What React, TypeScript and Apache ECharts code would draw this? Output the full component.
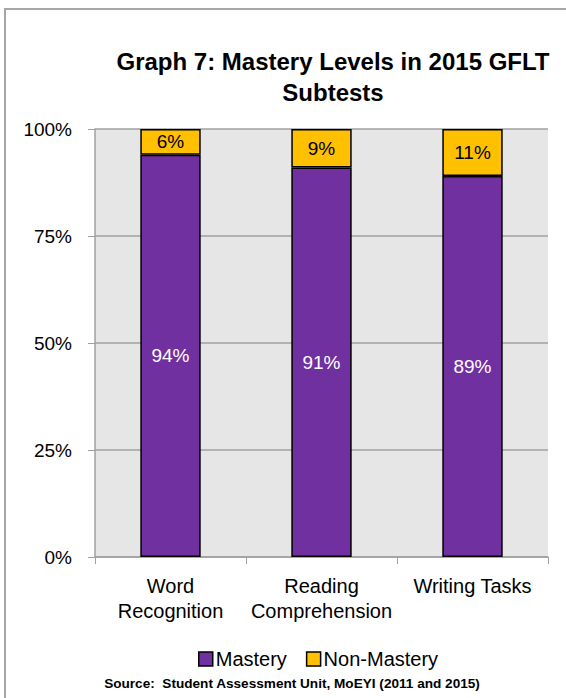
import React, { useEffect, useRef } from "react";
import * as echarts from "echarts";

const categories = ["Word\nRecognition", "Reading\nComprehension", "Writing Tasks"];
const mastery = [94, 91, 89];
const nonMastery = [6, 9, 11];
const yTicks = [0, 25, 50, 75, 100];

const FONT = "'Liberation Sans', Arial, sans-serif";

export default function App() {
  const ref = useRef<HTMLDivElement>(null);
  useEffect(() => {
    const chart = echarts.init(ref.current!, null, { renderer: "svg" });
    chart.setOption({
      animation: false,
      backgroundColor: "#ffffff",
      title: {
        text: "Graph 7: Mastery Levels in 2015 GFLT\nSubtests",
        left: 328,
        top: 41,
        textAlign: "center",
        textStyle: { fontFamily: FONT, fontSize: 24, fontWeight: "bold", color: "#000", lineHeight: 31 },
      },
      graphic: [
        {
          type: "rect",
          shape: { x: 5, y: 9, width: 570, height: 700 },
          style: { fill: "none", stroke: "#a6a6a6", lineWidth: 2 },
          silent: true,
        },
        {
          type: "text",
          x: 292,
          y: 683,
          style: {
            text: "Source:  Student Assessment Unit, MoEYI (2011 and 2015)",
            font: "bold 13.6px 'Liberation Sans', Arial, sans-serif",
            fill: "#000",
            align: "center",
            verticalAlign: "middle",
          },
        },
      ],
      legend: {
        data: ["Mastery", "Non-Mastery"],
        left: 193,
        top: 644,
        itemWidth: 14,
        itemHeight: 14,
        itemGap: 19,
        icon: "rect",
        itemStyle: { borderColor: "#000", borderWidth: 1.5 },
        textStyle: { fontFamily: FONT, fontSize: 20, color: "#000", padding: [0, 0, 0, -2] },
      },
      grid: { left: 95, right: 18, top: 129, bottom: 141, show: true, backgroundColor: "#e6e6e6", borderWidth: 0 },
      xAxis: {
        type: "category",
        data: categories,
        axisLine: { lineStyle: { color: "#a0a0a0", width: 1.5 } },
        axisTick: { show: true, length: 7, lineStyle: { color: "#a0a0a0" } },
        axisLabel: { interval: 0, fontFamily: FONT, fontSize: 20, color: "#000", lineHeight: 25, margin: 16 },
      },
      yAxis: {
        type: "value",
        min: 0,
        max: 100,
        interval: 25,
        axisLine: { show: true, lineStyle: { color: "#a0a0a0", width: 1.5 } },
        axisTick: { show: true, length: 7, lineStyle: { color: "#a0a0a0" } },
        splitLine: { lineStyle: { color: "#a0a0a0", width: 1.5 } },
        axisLabel: {
          fontFamily: FONT,
          fontSize: 19,
          color: "#000",
          margin: 23,
          formatter: (v: number) => (yTicks.includes(v) ? v + "%" : ""),
        },
      },
      series: [
        {
          name: "Mastery",
          type: "bar",
          stack: "a",
          barWidth: "40%",
          data: mastery,
          itemStyle: { color: "#7030a0", borderColor: "#000", borderWidth: 1.5 },
          label: { show: true, position: "inside", formatter: "{c}%", color: "#fff", fontFamily: FONT, fontSize: 19 },
        },
        {
          name: "Non-Mastery",
          type: "bar",
          stack: "a",
          barWidth: "40%",
          data: nonMastery,
          itemStyle: { color: "#ffc000", borderColor: "#000", borderWidth: 1.5 },
          label: { show: true, position: "inside", formatter: "{c}%", color: "#000", fontFamily: FONT, fontSize: 19 },
        },
      ],
    });
    return () => chart.dispose();
  }, []);
  return <div ref={ref} style={{ position: "fixed", left: 0, top: 0, width: 566, height: 698 }} />;
}
